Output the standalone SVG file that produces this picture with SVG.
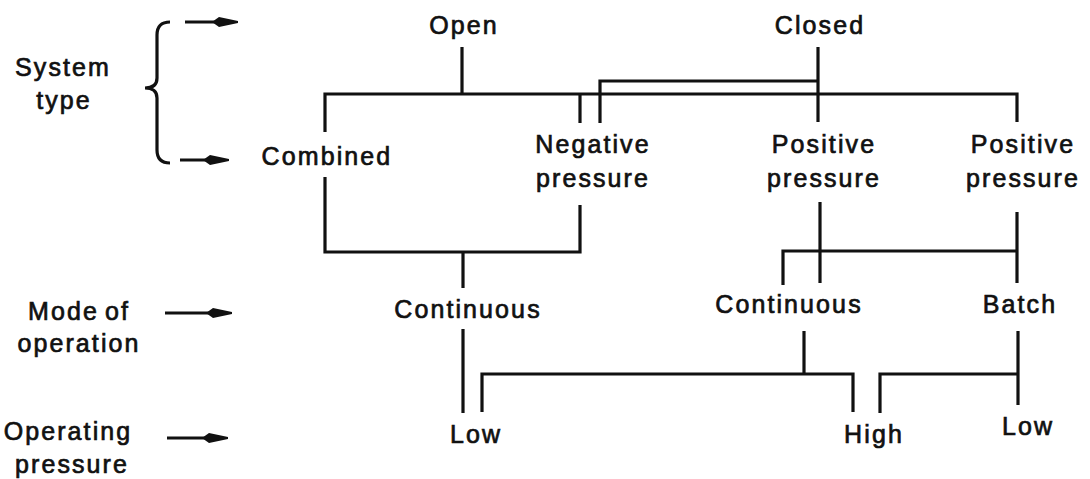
<svg xmlns="http://www.w3.org/2000/svg" width="1090" height="479" viewBox="0 0 1090 479">
<style>
text{font-family:"Liberation Sans",Arial,sans-serif;font-size:25px;fill:#111;letter-spacing:2.1px;text-anchor:middle;stroke:#111;stroke-width:0.7px}
.ln{fill:none;stroke:#111;stroke-width:3.2;stroke-linecap:butt;stroke-linejoin:miter}
.ah{fill:#111;stroke:none}
</style>
<defs>
<path id="head" d="M-26,0 L-19,-5 L0,-1 L0,1 L-19,5 Z" class="ah"/>
</defs>
<rect width="1090" height="479" fill="#fff"/>
<g id="legend">
<g id="label-system-type"><text x="63" y="76">System</text><text x="64" y="109">type</text></g>
<path class="ln" d="M170,22 Q157,22 157,35 L157,78 Q157,88 145,88 Q157,88 157,98 L157,150 Q157,163 170,163"/>
<line class="ln" x1="185" y1="22" x2="225" y2="22"/><use href="#head" x="238" y="22"/>
<line class="ln" x1="180" y1="160" x2="215" y2="160"/><use href="#head" x="229" y="160"/>
<g id="label-mode"><text x="79" y="320" word-spacing="-3">Mode of</text><text x="79" y="352">operation</text></g>
<line class="ln" x1="165" y1="313" x2="218" y2="313"/><use href="#head" x="232" y="313"/>
<g id="label-pressure"><text x="68" y="440">Operating</text><text x="72" y="473">pressure</text></g>
<line class="ln" x1="167" y1="438" x2="214" y2="438"/><use href="#head" x="228" y="438"/>
</g>
<g id="n-open"><text x="464" y="34">Open</text></g>
<g id="n-closed"><text x="820" y="34">Closed</text></g>
<g id="n-combined"><text x="327" y="165">Combined</text></g>
<g id="n-negative"><text x="593" y="153">Negative</text><text x="593" y="187">pressure</text></g>
<g id="n-positive1"><text x="824" y="153">Positive</text><text x="824" y="187">pressure</text></g>
<g id="n-positive2"><text x="1023" y="153">Positive</text><text x="1023" y="187">pressure</text></g>
<g id="n-cont1"><text x="468" y="318">Continuous</text></g>
<g id="n-cont2"><text x="789" y="313">Continuous</text></g>
<g id="n-batch"><text x="1020" y="313">Batch</text></g>
<g id="n-low1"><text x="476" y="443">Low</text></g>
<g id="n-high"><text x="874" y="443">High</text></g>
<g id="n-low2"><text x="1028" y="435">Low</text></g>
<g id="connectors">
<path class="ln" d="M462,47 V94"/>
<path class="ln" d="M325,132 V94 H1017 V122"/>
<path class="ln" d="M580,94 V123"/>
<path class="ln" d="M600,123 V81 H818"/>
<path class="ln" d="M818,47 V122"/>
<path class="ln" d="M325,177 V252 H580 V205"/>
<path class="ln" d="M463,252 V288"/>
<path class="ln" d="M820,202 V283"/>
<path class="ln" d="M1017,212 V283"/>
<path class="ln" d="M783,285 V251 H1017"/>
<path class="ln" d="M463,329 V413"/>
<path class="ln" d="M804,331 V374"/>
<path class="ln" d="M482,412 V374 H853 V412"/>
<path class="ln" d="M1018,331 V405"/>
<path class="ln" d="M880,413 V374 H1018"/>
</g>
</svg>
